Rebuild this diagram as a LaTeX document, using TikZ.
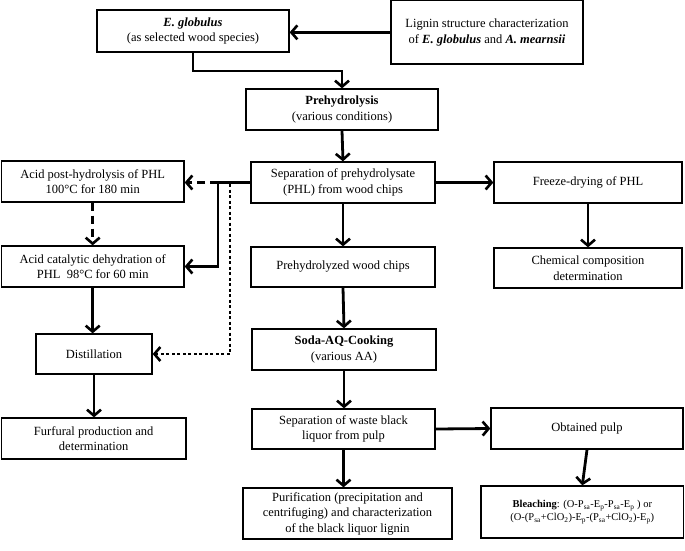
\documentclass[tikz,border=0pt]{standalone}
\usepackage{fontspec}
\setmainfont{Liberation Serif}
\usetikzlibrary{arrows.meta}
\newcommand{\bx}[7][]{\node[box,#1, minimum width={(#5-#3)*1pt}, minimum height={(#6-#4)*1pt}] (#2) at ({(#3+#5)/2},{(#4+#6)/2}) {#7};}
\begin{document}
\begin{tikzpicture}[x=1pt,y=-1pt,
  box/.style={draw, line width=1.3pt, align=center, inner sep=0pt, font=\fontsize{12.5}{15.5}\selectfont},
  conn/.style={line width=2.8pt, -{Straight Barb[length=6pt,width=14pt,line width=2.6pt]}},
  plain/.style={line width=2.8pt},
  dsh/.style={dash pattern=on 8pt off 5pt},
  dts/.style={dash pattern=on 3pt off 2.5pt}
]
\useasboundingbox (0,0) rectangle (685,550);

\bx{eglob}{97}{10}{289}{52}{\textbf{\textit{E. globulus}}\\(as selected wood species)}
\bx{lignin}{391}{0.7}{583}{64}{Lignin structure characterization\\of \textbf{\textit{E. globulus}} and \textbf{\textit{A. mearnsii}}}
\bx{prehyd}{246}{89}{438}{130}{\textbf{Prehydrolysis}\\(various conditions)}
\bx{sepPHL}{251}{162}{435}{203}{Separation of prehydrolysate\\(PHL) from wood chips}
\bx{acidpost}{1.4}{161}{184}{202}{Acid post-hydrolysis of PHL\\100°C for 180 min}
\bx{freeze}{494}{162}{682}{203}{Freeze-drying of PHL}
\bx{acidcat}{1.4}{246}{184}{287}{Acid catalytic dehydration of\\PHL\ \ 98°C for 60 min}
\bx{prewood}{251}{247}{435}{287}{Prehydrolyzed wood chips}
\bx{chem}{494}{248}{682}{288}{Chemical composition\\determination}
\bx{distill}{36}{334}{152}{374}{Distillation}
\bx{soda}{252}{329}{436}{370}{\textbf{Soda-AQ-Cooking}\\(various AA)}
\bx{furf}{1.4}{418}{186}{459}{Furfural production and\\determination}
\bx{sepBL}{252}{409}{435}{449}{Separation of waste black\\liquor from pulp}
\bx{pulp}{491}{408}{683}{449}{Obtained pulp}
\bx{purif}{243}{488}{452}{539}{Purification (precipitation and\\centrifuging) and characterization\\of the black liquor lignin}
\bx[font=\fontsize{10.5}{13}\selectfont]{bleach}{481}{486}{683.6}{538}{\textbf{Bleaching}: (O-P\textsubscript{sa}-E\textsubscript{p}-P\textsubscript{sa}-E\textsubscript{p} ) or\\(O-(P\textsubscript{sa}+ClO\textsubscript{2})-E\textsubscript{p}-(P\textsubscript{sa}+ClO\textsubscript{2})-E\textsubscript{p})}

\coordinate (c1) at (342,71);
\coordinate (j) at (218,182.5);
\coordinate (d1) at (230,184);

\draw[conn] (lignin.west) -- (lignin.west -| eglob.east);
\draw[conn] (eglob.south) |- (c1) -- (prehyd.north);
\draw[conn] (prehyd.south) -- (sepPHL.north);
\draw[conn] (sepPHL.east) -- (freeze.west);
\draw[plain] (sepPHL.west) -- (j);
\draw[conn] (j) |- (acidcat.east);
\draw[conn,dsh] (j) -- (j -| acidpost.east);
\draw[conn,dts] (d1) |- (distill.east);
\draw[conn,dsh] (acidpost.south) -- (acidcat.north);
\draw[conn] (acidcat.south) -- (acidcat.south |- distill.north);
\draw[conn] (distill.south) -- (distill.south |- furf.north);
\draw[conn] (sepPHL.south) -- (prewood.north);
\draw[conn] (prewood.south) -- (soda.north);
\draw[conn] (soda.south) -- (soda.south |- sepBL.north);
\draw[conn] (sepBL.east) -- (pulp.west);
\draw[conn] (sepBL.south) -- (sepBL.south |- purif.north);
\draw[conn] (freeze.south) -- (chem.north);
\draw[conn] (pulp.south) -- (bleach.north);
\end{tikzpicture}
\end{document}
